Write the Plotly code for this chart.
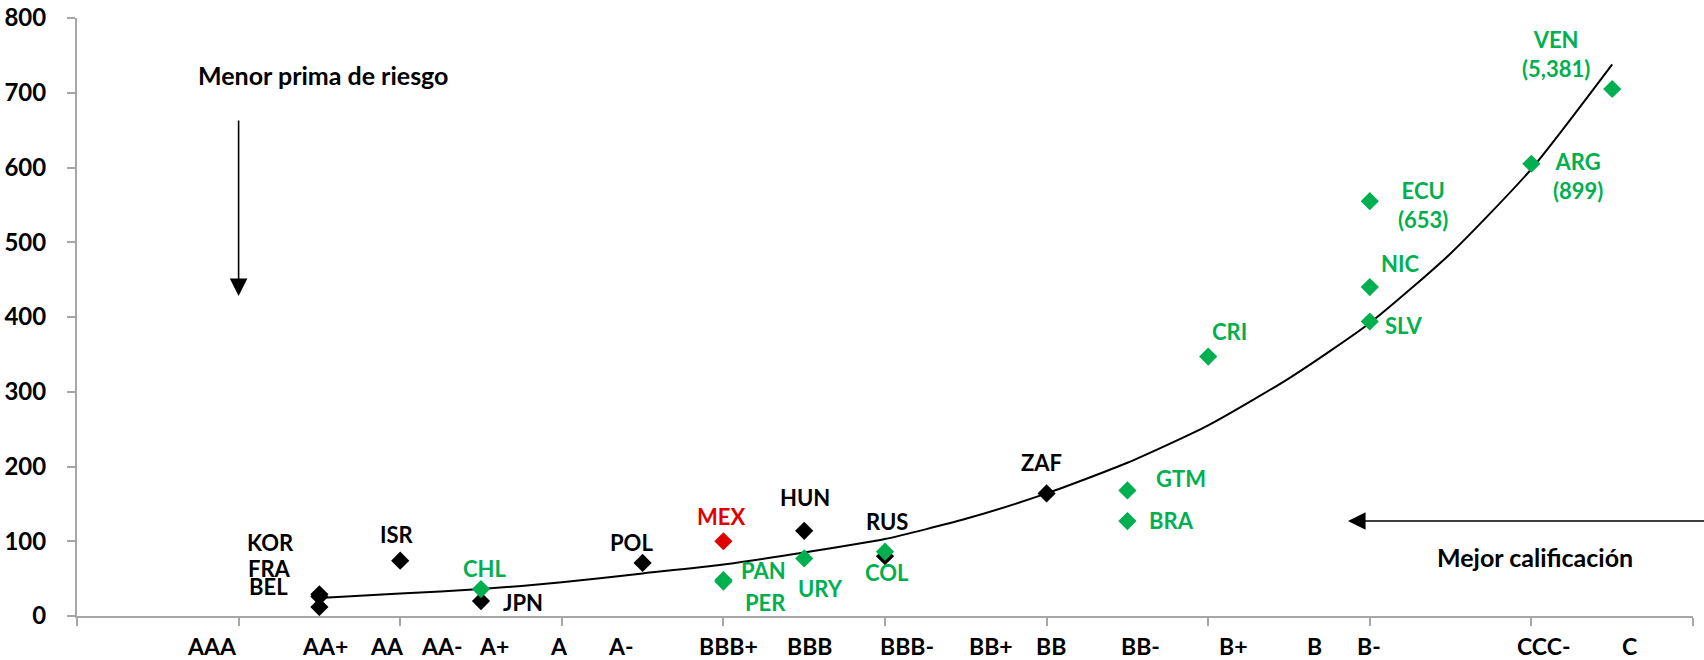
import plotly.graph_objects as go

# ---------------- data ----------------
rating_labels = ["AAA", "AA+", "AA", "AA-", "A+", "A", "A-", "BBB+", "BBB", "BBB-",
                 "BB+", "BB", "BB-", "B+", "B", "B-", "CCC-", "C"]
rating_label_x = [1.67, 3.07, 3.84, 4.52, 5.16, 5.97, 6.73, 8.06, 9.07, 10.27,
                  11.31, 12.05, 13.16, 14.31, 15.31, 15.99, 18.16, 19.22]

black_names = ["KOR", "FRA", "BEL", "ISR", "JPN", "POL", "HUN", "RUS", "ZAF"]
black_x = [3, 3, 3, 4, 5, 7, 9, 10, 12]
black_y = [29, 26, 12, 74, 20, 71, 114, 80, 164]

green_names = ["CHL", "PAN", "PER", "URY", "COL", "GTM", "BRA", "CRI", "ECU", "NIC", "SLV", "ARG", "VEN"]
green_x = [5, 8, 8, 9, 10, 13, 13, 14, 16, 16, 16, 18, 19]
green_y = [36, 48, 46, 77, 86, 168, 127, 347, 555, 440, 394, 605, 705]

red_names = ["MEX"]
red_x = [8]
red_y = [100]

curve_x = [3, 4, 5, 6, 7, 8, 9, 10, 11, 12, 13, 14, 15, 16, 17, 18, 19]
curve_y = [24, 30, 36, 45, 57, 69, 85, 103, 130, 164, 205, 255, 318, 392, 485, 598, 738]

# label texts and their anchor positions (data coords)
black_label_text = ["KOR", "FRA", "BEL", "ISR", "JPN", "POL", "HUN", "RUS", "ZAF"]
black_label_x = [2.40, 2.38, 2.37, 3.96, 5.52, 6.86, 9.01, 10.02, 11.94]
black_label_y = [99, 64, 39, 109, 18, 98, 158, 127, 206]

green_label_text = ["CHL", "PAN", "PER", "URY", "COL", "GTM", "BRA", "CRI",
                    "ECU<br>(653)", "NIC", "SLV", "ARG<br>(899)", "VEN<br>(5,381)"]
green_label_x = [5.05, 8.50, 8.52, 9.20, 10.02, 13.66, 13.54, 14.26, 16.66, 16.37, 16.42, 18.58, 18.30]
green_label_y = [64, 61, 18, 37, 58, 184, 128, 380, 550, 471, 388, 589, 752]

red_label_text = ["MEX"]
red_label_x = [7.97]
red_label_y = [133]

BLACK = "#000000"
GREEN = "#00B050"
RED = "#E00000"
AXIS = "#A6A6A6"
FONT = "Lato"

fig = go.Figure()

fig.add_trace(go.Scatter(x=curve_x, y=curve_y, mode="lines",
                         line=dict(color=BLACK, width=2, shape="spline", smoothing=0.6),
                         hoverinfo="skip", showlegend=False))

for xs, ys, col, names in [(black_x, black_y, BLACK, black_names),
                           (green_x, green_y, GREEN, green_names),
                           (red_x, red_y, RED, red_names)]:
    fig.add_trace(go.Scatter(x=xs, y=ys, mode="markers", text=names,
                             marker=dict(symbol="diamond", size=14, color=col, line=dict(width=0)),
                             showlegend=False))

annotations = []
for texts, xs, ys, col in [(black_label_text, black_label_x, black_label_y, BLACK),
                           (green_label_text, green_label_x, green_label_y, GREEN),
                           (red_label_text, red_label_x, red_label_y, RED)]:
    for t, x, y in zip(texts, xs, ys):
        annotations.append(dict(x=x, y=y, xref="x", yref="y", text=t, showarrow=False,
                                xanchor="center", yanchor="middle",
                                font=dict(family=FONT, size=22, color=col, weight="bold")))

for t, x in zip(rating_labels, rating_label_x):
    annotations.append(dict(x=x, y=0, xref="x", yref="paper", text=t, showarrow=False,
                            xanchor="center", yanchor="middle", yshift=-30,
                            font=dict(family=FONT, size=23, color=BLACK, weight="bold")))

# explanatory texts and arrows
annotations.append(dict(x=3.04, y=724, xref="x", yref="y", text="Menor prima de riesgo",
                        showarrow=False, xanchor="center", yanchor="middle",
                        font=dict(family=FONT, size=25, color=BLACK, weight="bold")))
annotations.append(dict(x=2, y=428, xref="x", yref="y", ax=2, ay=665, axref="x", ayref="y",
                        text="", showarrow=True, arrowhead=2, arrowsize=2.2, arrowwidth=1.6,
                        arrowcolor=BLACK))
annotations.append(dict(x=18.05, y=79, xref="x", yref="y", text="Mejor calificación",
                        showarrow=False, xanchor="center", yanchor="middle",
                        font=dict(family=FONT, size=25, color=BLACK, weight="bold")))
annotations.append(dict(x=15.73, y=127, xref="x", yref="y", ax=20.2, ay=127, axref="x", ayref="y",
                        text="", showarrow=True, arrowhead=2, arrowsize=2.2, arrowwidth=1.6,
                        arrowcolor=BLACK))

fig.update_layout(
    width=1704, height=660,
    margin=dict(l=77, r=11, t=18, b=44, autoexpand=False),
    paper_bgcolor="white", plot_bgcolor="white",
    annotations=annotations,
    xaxis=dict(range=[0, 20], tickvals=list(range(0, 21, 2)), ticks="outside", ticklen=8,
               tickcolor=AXIS, tickwidth=2, showticklabels=False, showline=True,
               linecolor=AXIS, linewidth=2, showgrid=False, zeroline=False, fixedrange=True,
               automargin=False),
    yaxis=dict(range=[0, 800], dtick=100, ticks="outside", ticklen=8, tickcolor=AXIS,
               tickwidth=2, showline=True, linecolor=AXIS, linewidth=2, showgrid=False,
               zeroline=False, ticklabelstandoff=16, automargin=False,
               tickfont=dict(family=FONT, size=24, color=BLACK, weight="bold")),
    showlegend=False,
)

fig.write_html("out.html", config={"displayModeBar": False},
               post_script="document.body.style.margin='0';document.body.style.overflow='hidden';")
